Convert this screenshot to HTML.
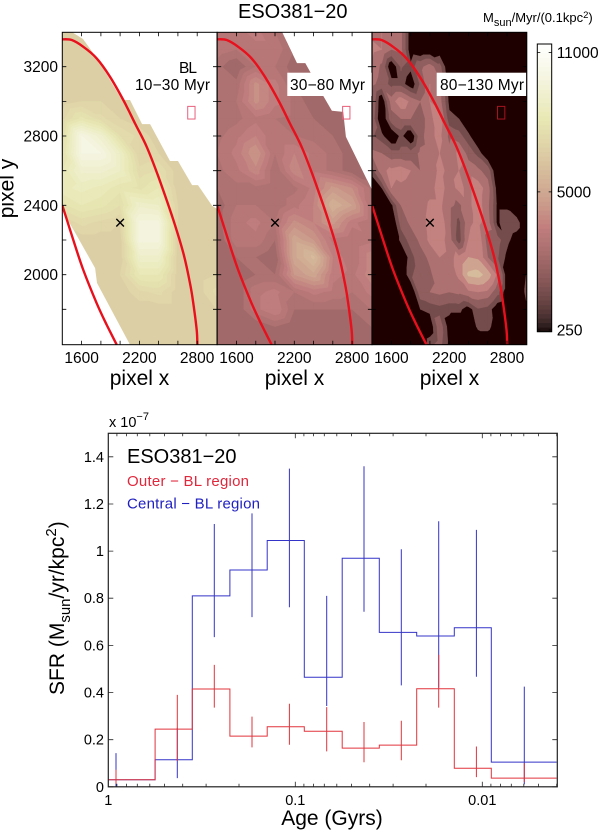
<!DOCTYPE html>
<html>
<head>
<meta charset="utf-8">
<title>ESO381-20</title>
<style>
html,body{margin:0;padding:0;background:#fff;}
svg{display:block;font-family:"Liberation Sans",sans-serif;}
</style>
</head>
<body>
<svg id="fig" xmlns="http://www.w3.org/2000/svg" width="600" height="833" viewBox="0 0 600 833">
<rect x="0" y="0" width="600" height="833" fill="#fff"/>
<g id="maps"></g>
<g id="cbar"></g>
<g id="sfr"></g>
<text x="238" y="18" font-size="20" fill="#000">ESO381−20</text>
<text x="483" y="22" font-size="13" fill="#000">M<tspan font-size="11" dy="4">sun</tspan><tspan dy="-4">/Myr/(0.1kpc</tspan><tspan font-size="9.5" dy="-4">2</tspan><tspan dy="4">)</tspan></text>
<text transform="translate(13.5,188.5) rotate(-90)" text-anchor="middle" font-size="21" fill="#000">pixel y</text>
<text x="139.5" y="385" text-anchor="middle" font-size="21" fill="#000">pixel x</text>
<text x="294.5" y="385" text-anchor="middle" font-size="21" fill="#000">pixel x</text>
<text x="449.5" y="385" text-anchor="middle" font-size="21" fill="#000">pixel x</text>
<text x="109" y="427" font-size="14.5" fill="#000">x 10<tspan font-size="11" dy="-7">−7</tspan></text>
<text transform="translate(64,695) rotate(-90)" font-size="21" fill="#000">SFR (M<tspan font-size="15" dy="6">sun</tspan><tspan dy="-6">/yr/kpc</tspan><tspan font-size="15" dy="-8">2</tspan><tspan dy="8">)</tspan></text>
<text x="332" y="825" text-anchor="middle" font-size="21" fill="#000">Age (Gyrs)</text>
<text x="127" y="463" font-size="20" fill="#000">ESO381−20</text>
<text x="127" y="486" font-size="15" textLength="122" fill="#e0283c">Outer − BL region</text>
<text x="127" y="508.5" font-size="15" textLength="133" fill="#2020c0">Central − BL region</text>
</svg>
<script>
// ---------- map data (star formation density, in hundreds of Msun/Myr/(0.1kpc^2)) ----------
const coarseX = [1400,1600,1800,2000,2200,2400,2600,2800,3000];
const fineX = [1400,1500,1600,1700,1800,1900,2000,2100,2200,2300,2400,2500,2600,2700,2800,2900,3000];
const fieldY = [3400,3300,3200,3100,3000,2900,2800,2700,2600,2500,2400,2300,2200,2100,2000,1900,1800,1700,1600];
const fieldBL = [
[68,68,68,68,68,68,68,68,68],
[68,68,68,68,68,68,68,68,68],
[68,68,68,68,68,68,68,68,68],
[68,68,68,68,68,68,68,68,68],
[68,70,70,68,68,68,68,68,68],
[72,80,74,70,68,68,68,68,68],
[76,100,92,76,72,68,68,68,68],
[78,100,100,88,70,70,68,68,68],
[82,92,92,88,74,76,68,68,68],
[84,86,84,80,78,82,68,68,68],
[78,82,80,76,90,88,70,68,68],
[70,74,72,70,98,98,70,68,68],
[68,68,68,68,98,98,68,68,68],
[68,68,68,68,90,90,68,68,68],
[68,68,68,70,82,82,68,68,70],
[68,68,68,68,72,74,68,68,74],
[68,68,68,68,68,68,68,68,70],
[68,68,68,68,68,68,68,68,68],
[68,68,68,68,68,68,68,68,68]];
const fieldMid = [
[35,35,37,33,30,27,27,27,27],
[35,33,35,35,30,27,27,27,27],
[31,27,33,33,28,27,27,27,27],
[30,31,43,37,30,27,27,27,27],
[30,33,43,37,32,28,27,27,27],
[30,32,35,33,32,30,28,27,27],
[32,35,39,33,33,32,30,27,27],
[33,37,45,33,39,35,32,28,27],
[32,35,41,30,41,35,32,28,27],
[30,32,32,30,32,37,46,42,32],
[28,33,33,30,35,39,54,48,33],
[28,35,37,33,43,39,46,37,33],
[27,35,35,30,50,45,35,33,35],
[27,30,30,27,50,58,39,33,41],
[27,27,30,30,45,50,37,35,41],
[27,27,35,37,33,37,35,33,37],
[27,27,35,39,30,30,30,30,33],
[27,27,27,30,27,27,27,27,30],
[27,27,27,27,27,27,27,27,27]];
const fieldOld = [
[34,36,34,30,6,3,3,3,3,3,3,3,3,3,3,3,3],
[38,36,28,30,6,3,3,6,3,3,3,3,3,3,3,3,3],
[34,26,4,20,14,26,32,22,4,3,3,3,3,3,3,3,3],
[30,24,16,16,6,20,36,30,8,3,3,3,3,3,3,3,3],
[26,4,32,42,34,28,36,32,10,3,3,3,3,3,3,3,3],
[24,3,24,28,28,22,34,40,14,12,3,3,3,3,3,3,3],
[20,14,4,14,4,24,34,38,26,22,14,3,3,3,3,3,3],
[30,28,22,22,22,30,32,36,30,38,24,16,4,3,3,3,3],
[16,34,38,40,36,28,30,38,34,36,34,30,24,3,3,3,3],
[3,12,36,34,32,28,32,40,32,38,34,40,32,8,3,3,3],
[3,3,10,28,36,30,38,38,30,26,34,40,30,10,10,3,3],
[3,3,3,22,30,30,40,42,30,16,34,38,32,10,18,16,3],
[3,3,3,14,22,30,38,40,32,14,36,42,24,22,14,8,3],
[3,3,3,3,16,24,30,36,34,38,46,44,28,20,10,3,3],
[3,3,3,3,18,22,26,34,30,38,58,60,52,34,6,3,12],
[3,3,3,3,3,24,28,30,28,30,34,36,34,22,6,3,14],
[3,3,3,3,3,12,14,16,14,14,8,18,16,6,3,3,10],
[3,3,3,3,3,3,6,24,8,3,3,14,14,8,3,3,3],
[3,3,3,3,3,3,16,22,10,3,3,3,6,3,3,3,3]];
const levelsBL = [70,73,76,79,82,85,88,91,94,97,100];
const levelsMid = [30,33,36,39,42,45,48,51,54,57,60];
const levelsOld = [12,19,28,36,46,56];
const footprintBL = [[1400,3400],[1498,3400],[1615,3360],[1771,3239],[2020,3008],[2103,3008],[2228,2869],[2311,2869],[2518,2656],[2601,2656],[2747,2517],[2809,2517],[2955,2398],[3007,2379],[3007,1596],[2103,1596],[1760,1952],[1740,2038],[1400,2373]];
const footprintMid = [[1400,3400],[2072,3400],[2228,3221],[2314,3221],[2366,3169],[2501,3031],[2591,2946],[2708,2939],[2736,2796],[3006,2489],[3006,1596],[1400,1596]];
const outerEllipseX = [1400,1498,1618,1757,1895,2033,2155,2276,2397,2553,2657,2726,2760,2795,2802];
const outerEllipseY = [3358,3354,3315,3248,3142,3008,2873,2738,2565,2315,2123,1950,1835,1681,1596];
const innerEllipseX = [1400,1514,1618,1757,1861,1965];
const innerEllipseY = [2400,2200,2027,1835,1710,1596];
const centreX = 2000, centreY = 2300;
const boxX = [2702,2778], boxY = [2971,2898];
const mapXTicks = [1600,2200,2800];
const mapYTicks = [2000,2400,2800,3200];
const cbarTicks = [250,5000,11000];
const cbarTickT = [0.006,0.486,0.97];

// ---------- SFR chart data ----------
const binEdges = [1,0.5623,0.3556,0.2236,0.1413,0.0895,0.0561,0.03556,0.02244,0.01412,0.00895,0.004];
const blueSFR = [0.03,0.115,0.81,0.92,1.045,0.465,0.97,0.655,0.64,0.675,0.105];
const redSFR = [0.03,0.245,0.415,0.215,0.255,0.236,0.164,0.177,0.416,0.079,0.037];
const errAges = [0.91,0.4276,0.271,0.1705,0.1076,0.0679,0.0429,0.0271,0.0171,0.01076,0.00596];
const blueLow = [0,0.037,0.635,0.72,0.762,0.343,0.743,0.43,0.42,0.467,0.01];
const blueHigh = [0.143,0.25,1.115,1.16,1.35,0.81,1.36,1.008,1.127,1.09,0.425];
const redLow = [0.013,0.11,0.336,0.167,0.178,0.15,0.104,0.113,0.336,0.041,0.02];
const redHigh = [0.072,0.39,0.517,0.298,0.352,0.338,0.275,0.28,0.56,0.171,0.1];
const sfrYTicks = [0,0.2,0.4,0.6,0.8,1,1.2,1.4];
const sfrYLabels = ['0','0.2','0.4','0.6','0.8','1','1.2','1.4'];
const sfrXTicks = [1,0.1,0.01];
const sfrXLabels = ['1','0.1','0.01'];

// ---------- helpers ----------
const NS = 'http://www.w3.org/2000/svg';
function mk(tag, attrs, parent){
  const e = document.createElementNS(NS, tag);
  for (const k in attrs) e.setAttribute(k, attrs[k]);
  parent.appendChild(e);
  return e;
}
function clamp(v){ return Math.max(0, Math.min(1, v)); }
function pink(t){
  const hr = Math.max(0.0417, clamp(t / 0.365)), hg = clamp((t - 0.365) / 0.375), hb = clamp((t - 0.74) / 0.26);
  const c = h => Math.round(255 * Math.sqrt((2 * t + h) / 3));
  return 'rgb(' + c(hr) + ',' + c(hg) + ',' + c(hb) + ')';
}
function tOf(v){
  if (v <= cbarTicks[0]) return 0;
  for (let i = 0; i < cbarTicks.length - 1; i++) {
    if (v <= cbarTicks[i + 1] || i === cbarTicks.length - 2) {
      const f = (v - cbarTicks[i]) / (cbarTicks[i + 1] - cbarTicks[i]);
      return clamp(cbarTickT[i] + f * (cbarTickT[i + 1] - cbarTickT[i]));
    }
  }
  return 1;
}
function clipTri(p, v, L){
  const out = [];
  for (let i = 0; i < 3; i++) {
    const j = (i + 1) % 3;
    if (v[i] >= L) out.push(p[i]);
    if ((v[i] >= L) !== (v[j] >= L)) {
      const f = (L - v[i]) / (v[j] - v[i]);
      out.push([p[i][0] + f * (p[j][0] - p[i][0]), p[i][1] + f * (p[j][1] - p[i][1])]);
    }
  }
  return out;
}
function smooth(pts){
  let d = 'M' + pts[0][0].toFixed(1) + ' ' + pts[0][1].toFixed(1);
  for (let i = 0; i < pts.length - 1; i++) {
    const a = pts[Math.max(0, i - 1)], b = pts[i], c = pts[i + 1], e = pts[Math.min(pts.length - 1, i + 2)];
    d += 'C' + (b[0] + (c[0] - a[0]) / 6).toFixed(1) + ' ' + (b[1] + (c[1] - a[1]) / 6).toFixed(1) + ' ' +
         (c[0] - (e[0] - b[0]) / 6).toFixed(1) + ' ' + (c[1] - (e[1] - b[1]) / 6).toFixed(1) + ' ' +
         c[0].toFixed(1) + ' ' + c[1].toFixed(1);
  }
  return d;
}

// ---------- map panels ----------
const maps = document.getElementById('maps');
const panels = [
  {id:'bl', left:62.3, xs:coarseX, field:fieldBL, levels:levelsBL, base:68, off:1.5, foot:footprintBL, box:'#e8607c', bg:'#ffffff'},
  {id:'mid', left:217.2, xs:coarseX, field:fieldMid, levels:levelsMid, base:27, off:1.5, foot:footprintMid, box:'#ea5c78', bg:'#ffffff'},
  {id:'old', left:372.1, xs:fineX, field:fieldOld, levels:levelsOld, base:2, off:3, foot:null, box:'#a81420', bg:pink(0)}
];
const TOP = 32.3, BOTTOM = 344.7, PW = 154.7;
const mapY = v => 66.7 + (3200 - v) * 0.1733;
const defs = mk('defs', {}, maps);

panels.forEach(function(P){
  const mapX = v => P.left + 19.3 + (v - 1600) * 0.0963;
  const panel = mk('g', {}, maps);
  
  
  const cp = mk('clipPath', {id:'clip-' + P.id}, defs);
  mk('rect', {x:P.left, y:TOP, width:PW, height:BOTTOM - TOP}, cp);
  const bg = mk('rect', {x:P.left, y:TOP, width:PW, height:BOTTOM - TOP, fill:P.bg}, panel);
  
  
  const clipped = mk('g', {'clip-path':'url(#clip-' + P.id + ')'}, panel);
  let host = clipped;
  if (P.foot) {
    const fc = mk('clipPath', {id:'foot-' + P.id}, defs);
    mk('polygon', {points:P.foot.map(q => mapX(q[0]).toFixed(1) + ',' + mapY(q[1]).toFixed(1)).join(' ')}, fc);
    host = mk('g', {'clip-path':'url(#foot-' + P.id + ')'}, clipped);
  }
  const baseRect = mk('rect', {x:P.left, y:TOP, width:PW, height:BOTTOM - TOP, fill:pink(tOf(P.base * 100))}, host);
  
  
  P.levels.forEach(function(L){
    let d = '';
    for (let r = 0; r < fieldY.length - 1; r++) {
      for (let c = 0; c < P.xs.length - 1; c++) {
        const a = [mapX(P.xs[c]), mapY(fieldY[r])], b = [mapX(P.xs[c + 1]), mapY(fieldY[r])];
        const e = [mapX(P.xs[c + 1]), mapY(fieldY[r + 1])], f = [mapX(P.xs[c]), mapY(fieldY[r + 1])];
        const va = P.field[r][c], vb = P.field[r][c + 1], ve = P.field[r + 1][c + 1], vf = P.field[r + 1][c];
        [[[a, b, e], [va, vb, ve]], [[a, e, f], [va, ve, vf]]].forEach(function(T){
          const poly = clipTri(T[0], T[1], L);
          if (poly.length > 2) d += 'M' + poly.map(q => q[0].toFixed(1) + ' ' + q[1].toFixed(1)).join('L') + 'Z';
        });
      }
    }
    if (d) {
      const col = pink(tOf((L + P.off) * 100));
      const band = mk('path', {d:d, fill:col, stroke:col, 'stroke-width':0.4}, host);
      
      
    }
  });
  const outerPts = outerEllipseX.map((x, i) => [mapX(x), mapY(outerEllipseY[i])]);
  const innerPts = innerEllipseX.map((x, i) => [mapX(x), mapY(innerEllipseY[i])]);
  const outer = mk('path', {d:smooth(outerPts), fill:'none', stroke:'#e8101c', 'stroke-width':2.4}, clipped);
  
  
  const inner = mk('path', {d:smooth(innerPts), fill:'none', stroke:'#e8101c', 'stroke-width':2.4}, clipped);
  
  
  const box = mk('rect', {x:mapX(boxX[0]), y:mapY(boxY[0]), width:mapX(boxX[1]) - mapX(boxX[0]), height:mapY(boxY[1]) - mapY(boxY[0]), fill:'none', stroke:P.box, 'stroke-width':1}, panel);
  
  
  const cx = mapX(centreX), cy = mapY(centreY);
  const mark = mk('path', {d:'M' + (cx - 3.8) + ' ' + (cy - 3.8) + 'L' + (cx + 3.8) + ' ' + (cy + 3.8) + 'M' + (cx - 3.8) + ' ' + (cy + 3.8) + 'L' + (cx + 3.8) + ' ' + (cy - 3.8), stroke:'#000', 'stroke-width':1.4, fill:'none'}, panel);
  
  
  // ticks every 200 units
  let tick = '';
  for (let x = 1600; x <= 2800; x += 200) {
    tick += 'M' + mapX(x).toFixed(1) + ' ' + TOP + 'v4M' + mapX(x).toFixed(1) + ' ' + BOTTOM + 'v-4';
  }
  for (let y = 1800; y <= 3200; y += 200) {
    tick += 'M' + P.left + ' ' + mapY(y).toFixed(1) + 'h4M' + (P.left + PW) + ' ' + mapY(y).toFixed(1) + 'h-4';
  }
  const ticks = mk('path', {d:tick, stroke:'#000', 'stroke-width':0.8, fill:'none'}, panel);
  
  
  const frame = mk('rect', {x:P.left, y:TOP, width:PW, height:BOTTOM - TOP, fill:'none', stroke:'#000', 'stroke-width':1}, panel);
  
  
  mapXTicks.forEach(function(v){
    const t = mk('text', {x:mapX(v), y:363, 'text-anchor':'middle', 'font-size':15.5, fill:'#000'}, panel);
    
    
    t.textContent = v;
  });
  if (P.id === 'bl') {
    mapYTicks.forEach(function(v){
      const t = mk('text', {x:58, y:mapY(v) + 5.5, 'text-anchor':'end', 'font-size':15.5, fill:'#000'}, panel);
      
      
      t.textContent = v;
    });
  }
});

// panel annotations
const annotations = [
  {box:null, lines:[['BL',179,73,18],['10−30 Myr',135,90,75]]},
  {box:[287.3,72.7,84.4,23.3], lines:[['30−80 Myr',290,90,75]]},
  {box:[436.7,72.7,89.4,23.3], lines:[['80−130 Myr',440,90,84]]}
];
annotations.forEach(function(A){
  if (A.box) {
    const r = mk('rect', {x:A.box[0], y:A.box[1], width:A.box[2], height:A.box[3], fill:'#fff'}, maps);
    
    
  }
  A.lines.forEach(function(l){
    const t = mk('text', {x:l[1], y:l[2], textLength:l[3], 'font-size':15.5, fill:'#000'}, maps);
    
    
    t.textContent = l[0];
  });
});

// ---------- colorbar ----------
const cbar = document.getElementById('cbar');
const CB = {x:537.3, w:14.4, top:44, bottom:331.7};
for (let i = 0; i < 64; i++) {
  const h = (CB.bottom - CB.top) / 64;
  const s = mk('rect', {x:CB.x, y:CB.bottom - (i + 1) * h, width:CB.w, height:h + 0.4, fill:pink((i + 0.5) / 64)}, cbar);
  
  
}
const cbFrame = mk('rect', {x:CB.x, y:CB.top, width:CB.w, height:CB.bottom - CB.top, fill:'none', stroke:'#000', 'stroke-width':1}, cbar);


cbarTicks.forEach(function(v, i){
  const y = CB.bottom - cbarTickT[i] * (CB.bottom - CB.top);
  const tk = mk('path', {d:'M' + CB.x + ' ' + y + 'h3M' + (CB.x + CB.w) + ' ' + y + 'h-3', stroke:'#000', 'stroke-width':0.8}, cbar);
  
  
  const t = mk('text', {x:556.7, y:y + 5.5, 'font-size':15.5, fill:'#000'}, cbar);
  
  
  t.textContent = v;
});

// ---------- SFR chart ----------
const sfr = document.getElementById('sfr');
const L = 108.3, R = 557.3, T = 433.3, B = 786.8;
const sx = a => L - Math.log10(a) * 187;
const sy = v => B - v * 235.7;
function stepPath(vals){
  let d = 'M' + sx(binEdges[0]).toFixed(1) + ' ' + sy(vals[0]).toFixed(1);
  vals.forEach(function(v, i){
    d += 'L' + sx(binEdges[i]).toFixed(1) + ' ' + sy(v).toFixed(1) + 'L' + sx(binEdges[i + 1]).toFixed(1) + ' ' + sy(v).toFixed(1);
  });
  return d;
}
function errPath(lo, hi){
  let d = '';
  errAges.forEach(function(a, i){
    d += 'M' + sx(a).toFixed(1) + ' ' + sy(lo[i]).toFixed(1) + 'V' + sy(hi[i]).toFixed(1);
  });
  return d;
}
const blueStep = mk('path', {d:stepPath(blueSFR), fill:'none', stroke:'#3434c8', 'stroke-width':1}, sfr);


const blueErr = mk('path', {d:errPath(blueLow, blueHigh), fill:'none', stroke:'#3434c8', 'stroke-width':1}, sfr);


const redStep = mk('path', {d:stepPath(redSFR), fill:'none', stroke:'#e0343c', 'stroke-width':1}, sfr);


const redErr = mk('path', {d:errPath(redLow, redHigh), fill:'none', stroke:'#e0343c', 'stroke-width':1}, sfr);



let sfrTicks = '';
sfrYTicks.forEach(function(v){
  sfrTicks += 'M' + L + ' ' + sy(v).toFixed(1) + 'h5M' + R + ' ' + sy(v).toFixed(1) + 'h-5';
});
for (let k = 0; k >= -3; k--) {
  for (let m = 1; m <= 9; m++) {
    const a = m * Math.pow(10, k - 1);
    const px = sx(a);
    if (px > L - 0.5 && px < R - 0.5) {
      const len = m === 1 ? 5 : 3;
      sfrTicks += 'M' + px.toFixed(1) + ' ' + T + 'v' + len + 'M' + px.toFixed(1) + ' ' + B + 'v-' + len;
    }
  }
}
const sfrTickPath = mk('path', {d:sfrTicks, fill:'none', stroke:'#222', 'stroke-width':0.8}, sfr);


const sfrFrame = mk('rect', {x:L, y:T, width:R - L, height:B - T, fill:'none', stroke:'#222', 'stroke-width':1.2}, sfr);


sfrYTicks.forEach(function(v, i){
  const t = mk('text', {x:104, y:sy(v) + 5, 'text-anchor':'end', 'font-size':14.5, fill:'#000'}, sfr);
  
  
  t.textContent = sfrYLabels[i];
});
sfrXTicks.forEach(function(v, i){
  const t = mk('text', {x:sx(v), y:805, 'text-anchor':'middle', 'font-size':14.5, fill:'#000'}, sfr);
  
  
  t.textContent = sfrXLabels[i];
});
</script>
</body>
</html>
